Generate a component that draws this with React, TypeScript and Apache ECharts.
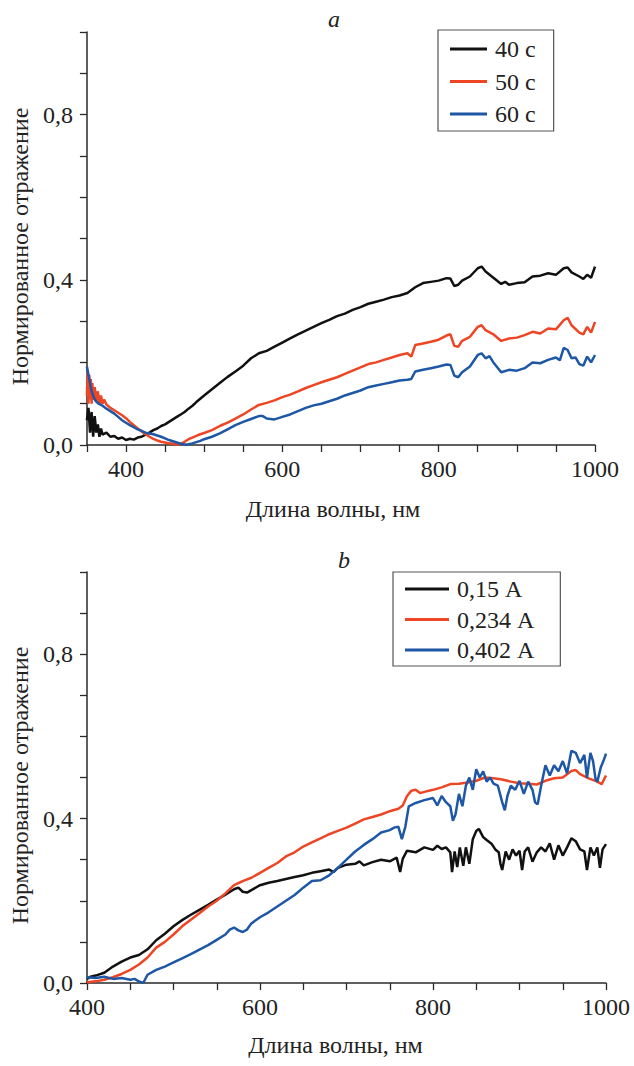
import React, { useEffect, useRef } from "react";
import * as echarts from "echarts";

// ---- Panel a: exposure time series (wavelength nm, normalized reflectance)
const namesA = ["40 с", "50 с", "60 с"];
const a40: number[][] = [
  [350, 0.06], [352, 0.09], [354, 0.03], [356, 0.08], [358, 0.02], [360, 0.07], [362, 0.03], [364, 0.05], [366, 0.02], [368, 0.04],
  [370, 0.025], [375, 0.03], [380, 0.02], [385, 0.022], [390, 0.015], [395, 0.018], [400, 0.012], [405, 0.015], [410, 0.013], [415, 0.018],
  [420, 0.02], [425, 0.025], [430, 0.03], [435, 0.036], [440, 0.04], [445, 0.046], [450, 0.05], [455, 0.056], [460, 0.062], [465, 0.068],
  [470, 0.074], [475, 0.08], [480, 0.088], [485, 0.095], [490, 0.104], [495, 0.112], [500, 0.12], [510, 0.135], [520, 0.15], [530, 0.165],
  [540, 0.178], [550, 0.192], [560, 0.21], [570, 0.222], [580, 0.228], [590, 0.238], [600, 0.248], [610, 0.258], [620, 0.268], [630, 0.277],
  [640, 0.286], [650, 0.295], [660, 0.303], [670, 0.312], [680, 0.318], [690, 0.327], [700, 0.334], [710, 0.342], [720, 0.347], [730, 0.352],
  [740, 0.358], [750, 0.362], [760, 0.368], [770, 0.382], [780, 0.392], [790, 0.395], [800, 0.398], [810, 0.404], [815, 0.403], [820, 0.385],
  [825, 0.388], [830, 0.398], [840, 0.408], [850, 0.428], [855, 0.432], [860, 0.42], [870, 0.405], [880, 0.39], [885, 0.395], [890, 0.388],
  [900, 0.392], [910, 0.394], [920, 0.408], [930, 0.41], [940, 0.416], [950, 0.412], [960, 0.428], [965, 0.43], [970, 0.418], [980, 0.408],
  [985, 0.402], [990, 0.412], [995, 0.405], [1000, 0.432],
];
const a50: number[][] = [
  [350, 0.12], [351, 0.18], [352, 0.1], [353, 0.17], [354, 0.11], [355, 0.16], [356, 0.1], [357, 0.15], [358, 0.11], [360, 0.14],
  [362, 0.105], [364, 0.13], [366, 0.1], [368, 0.12], [370, 0.1], [372, 0.11], [375, 0.098], [380, 0.09], [385, 0.084], [390, 0.078],
  [395, 0.072], [400, 0.065], [405, 0.056], [410, 0.048], [415, 0.04], [420, 0.033], [425, 0.026], [430, 0.02], [435, 0.015], [440, 0.011],
  [445, 0.008], [450, 0.006], [455, 0.004], [460, 0.003], [465, 0.001], [470, 0.002], [475, 0.008], [480, 0.014], [485, 0.018], [490, 0.022],
  [495, 0.026], [500, 0.029], [510, 0.036], [520, 0.046], [530, 0.054], [540, 0.064], [550, 0.074], [560, 0.086], [570, 0.097], [580, 0.102],
  [590, 0.108], [600, 0.116], [610, 0.122], [620, 0.13], [630, 0.138], [640, 0.145], [650, 0.152], [660, 0.158], [670, 0.164], [680, 0.172],
  [690, 0.18], [700, 0.188], [710, 0.196], [720, 0.2], [730, 0.206], [740, 0.212], [750, 0.218], [760, 0.222], [765, 0.214], [770, 0.242],
  [780, 0.246], [790, 0.25], [800, 0.255], [810, 0.265], [815, 0.268], [820, 0.24], [825, 0.238], [830, 0.252], [840, 0.262], [850, 0.286],
  [855, 0.29], [860, 0.278], [870, 0.268], [880, 0.252], [890, 0.258], [900, 0.26], [910, 0.266], [920, 0.274], [930, 0.27], [940, 0.282],
  [950, 0.28], [960, 0.302], [965, 0.308], [970, 0.29], [980, 0.272], [985, 0.268], [990, 0.286], [995, 0.272], [1000, 0.298],
];
const a60: number[][] = [
  [350, 0.19], [352, 0.17], [354, 0.15], [356, 0.13], [358, 0.12], [360, 0.11], [362, 0.105], [365, 0.1], [370, 0.095], [375, 0.088],
  [380, 0.082], [385, 0.076], [390, 0.068], [395, 0.06], [400, 0.054], [405, 0.048], [410, 0.043], [415, 0.038], [420, 0.034], [425, 0.03],
  [430, 0.028], [435, 0.026], [440, 0.023], [445, 0.02], [450, 0.016], [455, 0.012], [460, 0.009], [465, 0.006], [470, 0.003], [475, 0.001],
  [480, 0.002], [485, 0.004], [490, 0.007], [495, 0.01], [500, 0.014], [510, 0.02], [520, 0.028], [530, 0.038], [540, 0.048], [550, 0.056],
  [560, 0.063], [570, 0.07], [575, 0.07], [580, 0.064], [590, 0.062], [600, 0.068], [610, 0.074], [620, 0.082], [630, 0.09], [640, 0.096],
  [650, 0.1], [660, 0.106], [670, 0.112], [680, 0.12], [690, 0.126], [700, 0.132], [710, 0.14], [720, 0.144], [730, 0.148], [740, 0.152],
  [750, 0.156], [760, 0.158], [765, 0.16], [770, 0.178], [780, 0.182], [790, 0.186], [800, 0.19], [810, 0.195], [815, 0.194], [820, 0.168],
  [825, 0.164], [830, 0.176], [840, 0.19], [850, 0.218], [855, 0.222], [860, 0.21], [865, 0.215], [870, 0.2], [880, 0.176], [890, 0.182],
  [900, 0.18], [910, 0.186], [920, 0.2], [930, 0.198], [940, 0.206], [950, 0.212], [955, 0.205], [960, 0.235], [965, 0.23], [970, 0.21],
  [975, 0.212], [980, 0.196], [985, 0.192], [990, 0.214], [995, 0.2], [1000, 0.218],
];

// ---- Panel b: current series
const namesB = ["0,15 А", "0,234 А", "0,402 А"];
const b015: number[][] = [
  [400, 0.01], [405, 0.016], [410, 0.018], [420, 0.025], [430, 0.04], [440, 0.052], [450, 0.062], [460, 0.068], [470, 0.082], [480, 0.104],
  [490, 0.12], [500, 0.138], [510, 0.153], [520, 0.166], [530, 0.178], [540, 0.19], [550, 0.203], [560, 0.215], [570, 0.228], [575, 0.232],
  [580, 0.222], [585, 0.22], [590, 0.226], [600, 0.238], [610, 0.244], [620, 0.248], [630, 0.253], [640, 0.258], [650, 0.262], [660, 0.268],
  [670, 0.272], [680, 0.276], [685, 0.27], [690, 0.28], [700, 0.288], [710, 0.29], [715, 0.296], [720, 0.286], [730, 0.294], [740, 0.3],
  [750, 0.296], [758, 0.305], [762, 0.27], [765, 0.302], [770, 0.322], [780, 0.318], [790, 0.33], [800, 0.324], [805, 0.334], [810, 0.326],
  [815, 0.33], [820, 0.318], [822, 0.27], [825, 0.32], [828, 0.282], [831, 0.33], [835, 0.285], [838, 0.33], [842, 0.29], [846, 0.35],
  [850, 0.37], [853, 0.375], [858, 0.355], [862, 0.348], [868, 0.338], [872, 0.325], [876, 0.318], [878, 0.29], [880, 0.275], [884, 0.32],
  [888, 0.3], [892, 0.325], [896, 0.31], [900, 0.322], [903, 0.275], [906, 0.32], [910, 0.33], [915, 0.295], [920, 0.318], [925, 0.33],
  [930, 0.32], [935, 0.34], [940, 0.3], [945, 0.335], [950, 0.31], [955, 0.33], [960, 0.352], [965, 0.345], [970, 0.325], [975, 0.32],
  [978, 0.275], [982, 0.33], [986, 0.31], [990, 0.33], [993, 0.28], [996, 0.325], [1000, 0.338],
];
const b0234: number[][] = [
  [400, 0.002], [410, 0.004], [420, 0.008], [430, 0.014], [440, 0.022], [450, 0.032], [460, 0.045], [470, 0.062], [480, 0.086], [490, 0.1],
  [500, 0.118], [510, 0.138], [520, 0.154], [530, 0.17], [540, 0.186], [550, 0.2], [560, 0.218], [570, 0.238], [580, 0.248], [590, 0.256],
  [600, 0.268], [610, 0.28], [620, 0.292], [630, 0.308], [640, 0.318], [650, 0.332], [660, 0.342], [670, 0.352], [680, 0.362], [690, 0.37],
  [700, 0.378], [710, 0.388], [720, 0.398], [730, 0.404], [740, 0.41], [750, 0.418], [760, 0.424], [765, 0.432], [770, 0.455], [775, 0.468],
  [780, 0.47], [785, 0.462], [790, 0.465], [800, 0.47], [810, 0.476], [820, 0.484], [830, 0.485], [840, 0.488], [850, 0.492], [860, 0.5],
  [870, 0.498], [880, 0.495], [890, 0.49], [900, 0.486], [910, 0.485], [920, 0.483], [930, 0.492], [940, 0.498], [950, 0.5], [960, 0.516],
  [965, 0.518], [970, 0.508], [980, 0.498], [990, 0.49], [995, 0.484], [1000, 0.505],
];
const b0402: number[][] = [
  [400, 0.014], [410, 0.012], [420, 0.015], [430, 0.01], [440, 0.012], [450, 0.008], [455, 0.01], [460, 0.004], [465, 0.0], [470, 0.02],
  [480, 0.032], [490, 0.04], [500, 0.05], [510, 0.06], [520, 0.07], [530, 0.081], [540, 0.092], [550, 0.105], [560, 0.118], [565, 0.13],
  [570, 0.135], [575, 0.128], [580, 0.124], [585, 0.13], [590, 0.145], [600, 0.16], [610, 0.172], [620, 0.186], [630, 0.2], [640, 0.214],
  [650, 0.232], [660, 0.248], [670, 0.25], [680, 0.262], [690, 0.28], [700, 0.3], [710, 0.32], [720, 0.336], [730, 0.35], [740, 0.366],
  [750, 0.372], [755, 0.378], [760, 0.38], [764, 0.35], [768, 0.38], [772, 0.43], [780, 0.438], [790, 0.445], [800, 0.45], [805, 0.432],
  [810, 0.455], [815, 0.44], [820, 0.43], [823, 0.395], [826, 0.41], [830, 0.46], [834, 0.43], [838, 0.48], [842, 0.5], [846, 0.47],
  [850, 0.52], [854, 0.5], [858, 0.515], [862, 0.49], [866, 0.5], [870, 0.485], [875, 0.48], [880, 0.44], [883, 0.42], [886, 0.455],
  [890, 0.48], [895, 0.47], [900, 0.492], [905, 0.46], [910, 0.49], [915, 0.47], [918, 0.44], [921, 0.435], [925, 0.48], [930, 0.53],
  [935, 0.505], [940, 0.53], [945, 0.515], [950, 0.54], [955, 0.51], [960, 0.565], [965, 0.56], [970, 0.535], [975, 0.555], [978, 0.5],
  [982, 0.56], [985, 0.54], [988, 0.495], [990, 0.49], [994, 0.525], [997, 0.54], [1000, 0.558],
];

const panelTitles = ["a", "b"];
const xAxisName = "Длина волны, нм";
const yAxisName = "Нормированное отражение";
const yLabelValues = [0, 0.4, 0.8];
const xLabelValues = [400, 600, 800, 1000];

const COLORS = ["#111111", "#ee4524", "#1d57a5"];
const FONT = "'Liberation Serif', 'Times New Roman', serif";
const AXIS_COLOR = "#2a2a2a";
const TXT = "#222";

function xAxis(gridIndex: number, min: number, nameGap: number, shift: number) {
  return {
    type: "value",
    gridIndex,
    min,
    max: 1000,
    interval: 50,
    name: xAxisName,
    nameLocation: "middle",
    nameGap,
    nameTextStyle: { fontFamily: FONT, fontSize: 24, color: TXT, padding: [0, shift, 0, 0] },
    axisLine: { show: true, onZero: false, lineStyle: { color: AXIS_COLOR, width: 1.5 } },
    axisTick: { show: true, inside: false, length: 7, lineStyle: { color: AXIS_COLOR, width: 1.3 } },
    axisLabel: {
      margin: 12,
      fontFamily: FONT,
      fontSize: 24,
      color: TXT,
      formatter: (v: number) => (xLabelValues.indexOf(Math.round(v)) >= 0 ? String(Math.round(v)) : ""),
    },
    splitLine: { show: false },
  };
}

function yAxis(gridIndex: number) {
  return {
    type: "value",
    gridIndex,
    min: 0,
    max: 1,
    interval: 0.1,
    name: yAxisName,
    nameLocation: "middle",
    nameGap: 45,
    nameTextStyle: { fontFamily: FONT, fontSize: 24, color: TXT, padding: [0, 16, 0, 0] },
    axisLine: { show: true, onZero: false, lineStyle: { color: AXIS_COLOR, width: 1.5 } },
    axisTick: { show: true, inside: false, length: 7, lineStyle: { color: AXIS_COLOR, width: 1.3 } },
    axisLabel: {
      margin: 14,
      fontFamily: FONT,
      fontSize: 24,
      color: TXT,
      formatter: (v: number) => {
        const r = Math.round(v * 10) / 10;
        return yLabelValues.some((t) => Math.abs(t - r) < 1e-6) ? r.toFixed(1).replace(".", ",") : "";
      },
    },
    splitLine: { show: false },
  };
}

function lineSeries(name: string, data: number[][], idx: number, color: string) {
  return {
    type: "line",
    name,
    data,
    xAxisIndex: idx,
    yAxisIndex: idx,
    symbol: "none",
    showSymbol: false,
    lineStyle: { color, width: 2.5 },
    itemStyle: { color },
    z: 3,
  };
}

function legend(data: string[], left: number, top: number, itemWidth: number, itemGap: number, padding: number[]) {
  return {
    data,
    orient: "vertical",
    left,
    top,
    icon: "rect",
    itemWidth,
    itemHeight: 3,
    itemGap,
    padding,
    borderColor: "#555",
    borderWidth: 1.2,
    borderRadius: 0,
    backgroundColor: "#fff",
    textStyle: { fontFamily: FONT, fontSize: 24, color: TXT, lineHeight: 24, padding: [0, 0, 0, 3] },
  };
}

export default function App() {
  const ref = useRef<HTMLDivElement>(null);
  useEffect(() => {
    if (!ref.current) return;
    const chart = echarts.init(ref.current, null, { renderer: "svg" });
    const titleStyle = { fontFamily: FONT, fontSize: 24, fontStyle: "italic", fontWeight: "normal", color: TXT };
    chart.setOption({
      animation: false,
      backgroundColor: "#fff",
      title: [
        { text: panelTitles[0], left: 323, top: 2, textStyle: titleStyle },
        { text: panelTitles[1], left: 333, top: 543, textStyle: titleStyle },
      ],
      grid: [
        { left: 79, top: 32, width: 516, height: 413 },
        { left: 87, top: 572, width: 519, height: 411 },
      ],
      xAxis: [xAxis(0, 350, 52, 16), xAxis(1, 400, 50, 22)],
      yAxis: [yAxis(0), yAxis(1)],
      legend: [
        legend(namesA, 438, 30, 37, 8.5, [7, 18, 5, 12]),
        legend(namesB, 393, 572, 44, 6.5, [5, 26, 4, 12]),
      ],
      series: [
        lineSeries(namesA[0], a40, 0, COLORS[0]),
        lineSeries(namesA[1], a50, 0, COLORS[1]),
        lineSeries(namesA[2], a60, 0, COLORS[2]),
        lineSeries(namesB[0], b015, 1, COLORS[0]),
        lineSeries(namesB[1], b0234, 1, COLORS[1]),
        lineSeries(namesB[2], b0402, 1, COLORS[2]),
      ],
    });
    return () => chart.dispose();
  }, []);
  return (
    <div
      ref={ref}
      style={{ position: "absolute", left: 0, top: 0, width: 634, height: 1066, background: "#fff" }}
    />
  );
}
